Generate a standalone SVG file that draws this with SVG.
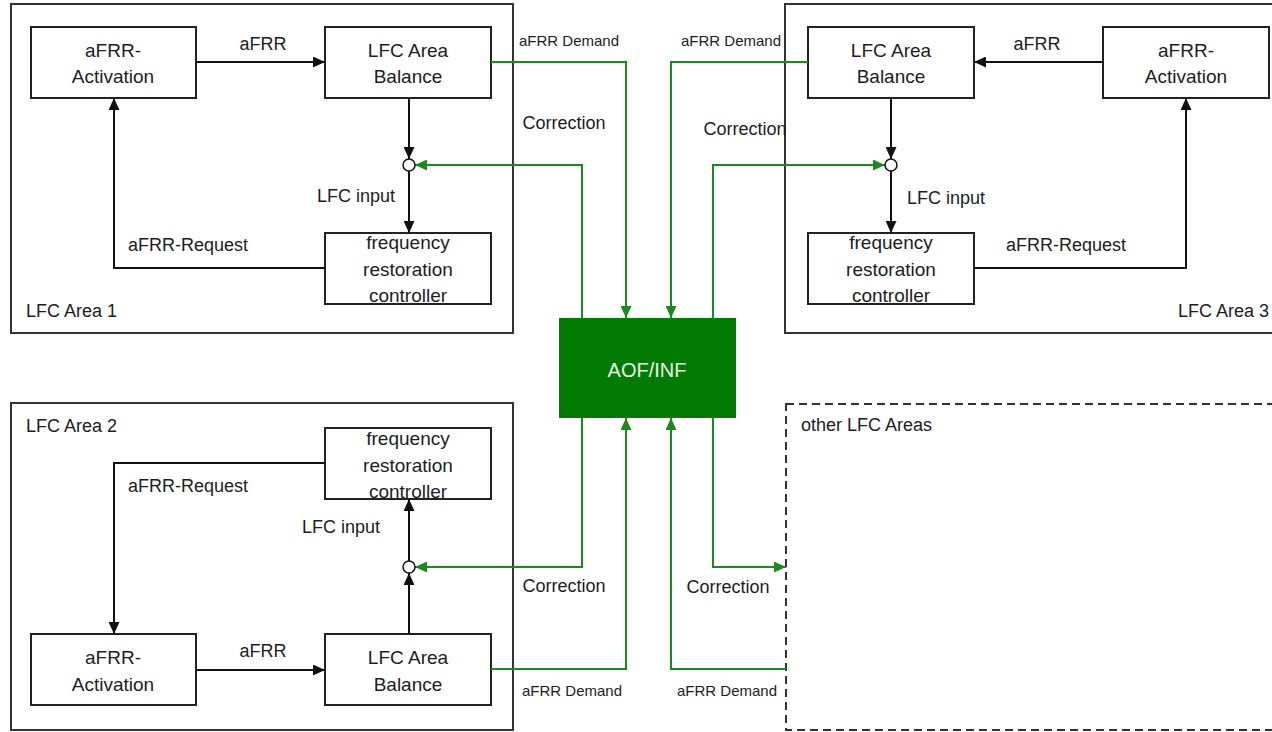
<svg xmlns="http://www.w3.org/2000/svg" width="1272" height="732" viewBox="0 0 1272 732">
<style>
text{font-family:"Liberation Sans",Arial,sans-serif;fill:#1c1c24}
.bx{font-size:19px;text-anchor:middle}
.lb{font-size:18px}
.sm{font-size:15px}
.area{fill:none;stroke:#333;stroke-width:2}
.node{fill:#fff;stroke:#222;stroke-width:2}
.blk{fill:none;stroke:#111;stroke-width:2}
.grn{fill:none;stroke:#1a8a1a;stroke-width:2}
</style>
<defs>
<marker id="ab" markerUnits="userSpaceOnUse" markerWidth="13" markerHeight="11" refX="12" refY="5.5" orient="auto"><path d="M0,0 L12,5.5 L0,11 z" fill="#111"/></marker>
<marker id="ag" markerUnits="userSpaceOnUse" markerWidth="13" markerHeight="11" refX="12" refY="5.5" orient="auto"><path d="M0,0 L12,5.5 L0,11 z" fill="#1a8a1a"/></marker>
</defs>
<rect width="1272" height="732" fill="#fff"/>

<g id="area1">
<rect class="area" x="11" y="4" width="502" height="329"/>
<text class="lb" x="26" y="317">LFC Area 1</text>
</g>
<g id="area3">
<rect class="area" x="785" y="4" width="490" height="329"/>
<text class="lb" x="1178" y="317">LFC Area 3</text>
</g>
<g id="area2">
<rect class="area" x="11" y="403" width="502" height="327"/>
<text class="lb" x="26" y="432">LFC Area 2</text>
</g>
<g id="other">
<rect x="786" y="404" width="490" height="326" fill="none" stroke="#333" stroke-width="2" stroke-dasharray="8,5"/>
<text class="lb" x="801" y="431">other LFC Areas</text>
</g>

<g id="a1-activation"><rect class="node" x="31" y="27" width="165" height="71"/><text class="bx" x="113" y="57">aFRR-</text><text class="bx" x="113" y="83">Activation</text></g>
<g id="a1-balance"><rect class="node" x="325" y="27" width="166" height="71"/><text class="bx" x="408" y="57">LFC Area</text><text class="bx" x="408" y="83">Balance</text></g>
<g id="a1-frc"><rect class="node" x="325" y="233" width="166" height="71"/><text class="bx" x="408" y="249">frequency</text><text class="bx" x="408" y="276">restoration</text><text class="bx" x="408" y="302">controller</text></g>

<g id="a3-balance"><rect class="node" x="808" y="27" width="166" height="71"/><text class="bx" x="891" y="57">LFC Area</text><text class="bx" x="891" y="83">Balance</text></g>
<g id="a3-activation"><rect class="node" x="1103" y="27" width="166" height="71"/><text class="bx" x="1186" y="57">aFRR-</text><text class="bx" x="1186" y="83">Activation</text></g>
<g id="a3-frc"><rect class="node" x="808" y="233" width="166" height="71"/><text class="bx" x="891" y="249">frequency</text><text class="bx" x="891" y="276">restoration</text><text class="bx" x="891" y="302">controller</text></g>

<g id="a2-frc"><rect class="node" x="325" y="428" width="166" height="71"/><text class="bx" x="408" y="445">frequency</text><text class="bx" x="408" y="472">restoration</text><text class="bx" x="408" y="498">controller</text></g>
<g id="a2-activation"><rect class="node" x="31" y="634" width="165" height="71"/><text class="bx" x="113" y="664">aFRR-</text><text class="bx" x="113" y="691">Activation</text></g>
<g id="a2-balance"><rect class="node" x="325" y="634" width="166" height="71"/><text class="bx" x="408" y="664">LFC Area</text><text class="bx" x="408" y="691">Balance</text></g>

<g id="aof"><rect x="559" y="318" width="177" height="100" fill="#007a00"/><text x="647" y="377" style="font-size:20px;text-anchor:middle;fill:#eaf6ea">AOF/INF</text></g>

<g id="connectors">
<path class="blk" d="M196,62 H325" marker-end="url(#ab)"/>
<path class="blk" d="M409,98 V159" marker-end="url(#ab)"/>
<path class="blk" d="M409,171 V233" marker-end="url(#ab)"/>
<path class="blk" d="M325,268 H114 V98" marker-end="url(#ab)"/>
<path class="blk" d="M1103,62 H974" marker-end="url(#ab)"/>
<path class="blk" d="M891,98 V159" marker-end="url(#ab)"/>
<path class="blk" d="M891,171 V233" marker-end="url(#ab)"/>
<path class="blk" d="M974,268 H1186 V98" marker-end="url(#ab)"/>
<path class="blk" d="M196,670 H325" marker-end="url(#ab)"/>
<path class="blk" d="M409,634 V573" marker-end="url(#ab)"/>
<path class="blk" d="M409,561 V499" marker-end="url(#ab)"/>
<path class="blk" d="M325,463 H114 V634" marker-end="url(#ab)"/>

<path class="grn" d="M491,62 H626 V318" marker-end="url(#ag)"/>
<path class="grn" d="M808,62 H671 V318" marker-end="url(#ag)"/>
<path class="grn" d="M582,318 V165 H415" marker-end="url(#ag)"/>
<path class="grn" d="M713,318 V165 H885" marker-end="url(#ag)"/>
<path class="grn" d="M582,418 V567 H415" marker-end="url(#ag)"/>
<path class="grn" d="M491,669 H626 V418" marker-end="url(#ag)"/>
<path class="grn" d="M713,418 V567 H786" marker-end="url(#ag)"/>
<path class="grn" d="M786,669 H671 V418" marker-end="url(#ag)"/>

<circle cx="409" cy="165" r="6" fill="#fff" stroke="#111" stroke-width="1.5"/>
<circle cx="891" cy="165" r="6" fill="#fff" stroke="#111" stroke-width="1.5"/>
<circle cx="409" cy="567" r="6" fill="#fff" stroke="#111" stroke-width="1.5"/>

<text class="lb" x="263" y="50" text-anchor="middle">aFRR</text>
<text class="lb" x="356" y="202" text-anchor="middle">LFC input</text>
<text class="lb" x="188" y="251" text-anchor="middle">aFRR-Request</text>
<text class="lb" x="1037" y="50" text-anchor="middle">aFRR</text>
<text class="lb" x="946" y="204" text-anchor="middle">LFC input</text>
<text class="lb" x="1066" y="251" text-anchor="middle">aFRR-Request</text>
<text class="lb" x="188" y="492" text-anchor="middle">aFRR-Request</text>
<text class="lb" x="341" y="533" text-anchor="middle">LFC input</text>
<text class="lb" x="263" y="657" text-anchor="middle">aFRR</text>

<text class="sm" x="569" y="46" text-anchor="middle">aFRR Demand</text>
<text class="sm" x="731" y="46" text-anchor="middle">aFRR Demand</text>
<text class="lb" x="564" y="129" text-anchor="middle">Correction</text>
<text class="lb" x="745" y="135" text-anchor="middle">Correction</text>
<text class="lb" x="564" y="592" text-anchor="middle">Correction</text>
<text class="lb" x="728" y="593" text-anchor="middle">Correction</text>
<text class="sm" x="572" y="696" text-anchor="middle">aFRR Demand</text>
<text class="sm" x="727" y="696" text-anchor="middle">aFRR Demand</text>
</g>
</svg>
